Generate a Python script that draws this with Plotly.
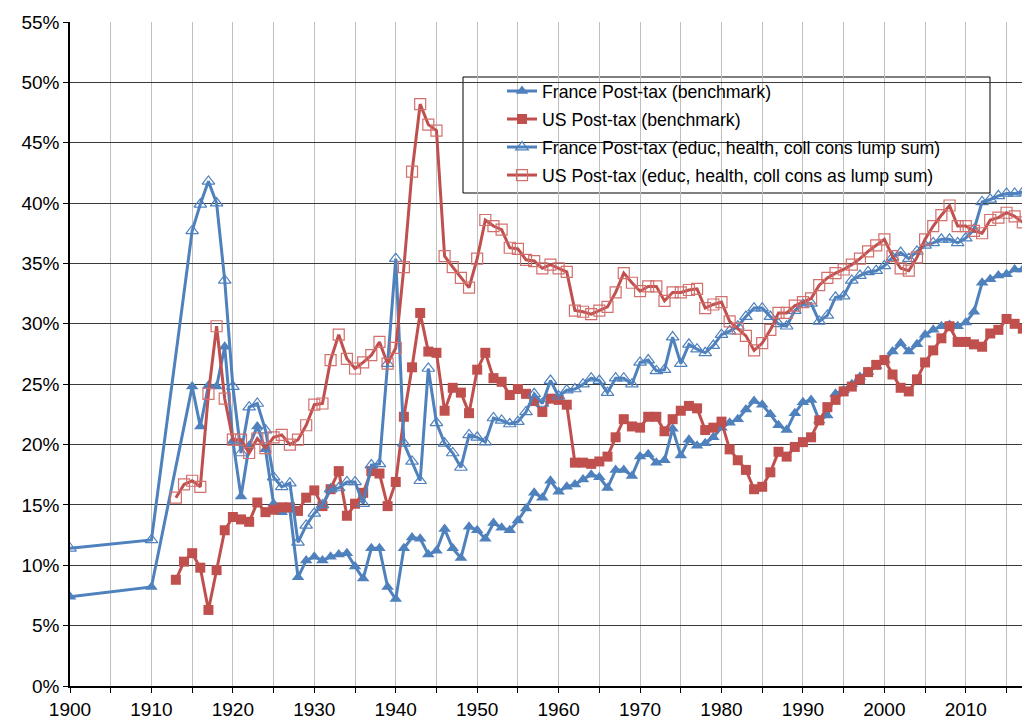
import plotly.graph_objects as go

fr_years = [1900, 1910] + list(range(1915, 2018))
us_years = list(range(1913, 2018))

fr_bench = [7.4, 8.2,
    24.8, 21.5, 24.9, 24.8, 28.1, 20.3, 15.7, 19.9, 21.5, 19.6,
    15.1, 14.4, 14.6, 9.0, 10.4, 10.7, 10.4, 10.7, 10.9, 11.0,
    9.9, 8.9, 11.4, 11.4, 8.2, 7.2, 11.4, 12.3, 12.2, 10.9,
    11.2, 13.0, 11.4, 10.6, 13.2, 12.9, 12.2, 13.5, 13.1, 12.9,
    13.7, 14.7, 16.0, 15.6, 17.0, 16.1, 16.5, 16.7, 17.1, 17.5,
    17.3, 16.4, 17.9, 17.9, 17.4, 19.0, 19.2, 18.5, 18.7, 21.3,
    19.1, 20.4, 19.9, 20.1, 20.6, 21.4, 21.8, 22.1, 22.9, 23.6,
    23.3, 22.5, 21.6, 21.2, 22.6, 23.5, 23.7, 22.0, 22.4, 24.2,
    24.5, 25.0, 25.6, 26.0, 26.5, 27.0, 27.7, 28.4, 27.7, 28.3,
    29.1, 29.5, 29.8, 29.9, 29.8, 30.1, 31.0, 33.4, 33.7, 34.0,
    34.1, 34.5, 34.5]

fr_lump = [11.4, 12.1,
    37.7, 39.9, 41.8, 40.0, 33.6, 24.8, 19.3, 23.1, 23.4, 21.2,
    17.3, 16.5, 16.8, 11.9, 13.3, 14.3, 15.0, 16.3, 16.4, 16.9,
    16.9, 15.1, 18.3, 18.4, 26.7, 35.4, 20.1, 18.6, 17.0, 26.3,
    21.8, 20.1, 19.3, 18.1, 20.8, 20.6, 20.2, 22.2, 22.0, 21.7,
    21.9, 22.7, 24.2, 23.4, 25.3, 24.0, 24.5, 24.6, 25.0, 25.5,
    25.3, 24.3, 25.5, 25.5, 25.0, 26.8, 27.0, 26.1, 26.2, 28.9,
    26.7, 28.3, 27.9, 27.6, 28.2, 29.1, 29.4, 29.8, 30.6, 31.3,
    31.3, 30.6, 30.0, 29.8, 31.1, 31.6, 31.7, 30.2, 30.7, 32.2,
    32.3, 33.6, 34.0, 34.3, 34.4, 34.8, 35.5, 35.9, 35.4, 36.0,
    36.5, 36.7, 37.0, 37.0, 36.7, 37.1, 37.8, 40.1, 40.3, 40.6,
    40.8, 40.8, 40.9]

us_bench = [8.8, 10.3,
    11.0, 9.8, 6.3, 9.6, 12.9, 14.0, 13.8, 13.6, 15.2, 14.4,
    14.6, 14.8, 14.8, 14.5, 15.6, 16.2, 14.9, 16.3, 17.8, 14.1,
    15.1, 16.0, 17.8, 17.6, 14.9, 16.9, 22.3, 26.4, 30.9, 27.7,
    27.6, 22.8, 24.7, 24.3, 22.6, 26.2, 27.6, 25.5, 25.2, 24.1,
    24.6, 24.2, 23.6, 22.7, 23.8, 23.7, 23.3, 18.5, 18.5, 18.4,
    18.6, 19.0, 20.6, 22.1, 21.5, 21.4, 22.3, 22.3, 21.1, 22.1,
    22.8, 23.2, 23.0, 21.2, 21.4, 21.9, 19.6, 18.7, 17.9, 16.3,
    16.5, 17.7, 19.4, 19.0, 19.8, 20.2, 20.6, 22.0, 23.1, 23.7,
    24.4, 24.8, 25.4, 26.0, 26.6, 27.0, 25.8, 24.7, 24.4, 25.4,
    26.8, 27.8, 28.8, 29.8, 28.5, 28.5, 28.3, 28.1, 29.2, 29.5,
    30.4, 30.0, 29.6]

us_lump = [15.6, 16.7,
    17.0, 16.5, 24.2, 29.8, 23.8, 20.4, 20.4, 19.3, 20.5, 19.7,
    20.6, 20.8, 20.0, 20.4, 21.6, 23.3, 23.4, 27.0, 29.1, 27.1,
    26.3, 26.8, 27.4, 28.5, 26.7, 28.0, 34.7, 42.6, 48.2, 46.5,
    46.0, 35.6, 34.7, 33.8, 33.0, 35.4, 38.6, 38.1, 37.8, 36.3,
    36.2, 35.3, 35.2, 34.6, 34.9, 34.6, 34.3, 31.1, 31.0, 30.8,
    31.1, 31.4, 32.6, 34.2, 33.4, 32.7, 33.1, 33.1, 31.9, 32.6,
    32.6, 32.8, 32.9, 31.3, 31.6, 31.8, 30.2, 29.6, 29.0, 27.8,
    28.4, 29.5, 30.9, 30.9, 31.5, 31.8, 32.1, 33.2, 33.8, 34.2,
    34.5, 34.9, 35.4, 36.0, 36.5, 37.0, 35.6, 34.6, 34.4, 35.5,
    37.0, 38.1, 39.0, 39.8, 38.1, 38.1, 37.7, 37.5, 38.6, 38.8,
    39.2, 38.9, 38.4]

x_tick_vals = list(range(1900, 2011, 10))
x_tick_text = [str(v) for v in x_tick_vals]
y_tick_vals = list(range(0, 56, 5))
y_tick_text = [f"{v}%" for v in y_tick_vals]

names = [
    "France Post-tax (benchmark)",
    "US Post-tax (benchmark)",
    "France Post-tax (educ, health, coll cons lump sum)",
    "US Post-tax (educ, health, coll cons as lump sum)",
]

BLUE = "#4F81BD"
RED = "#C0504D"
FONT = "Liberation Sans, Arial, sans-serif"

fig = go.Figure()
fig.add_trace(go.Scatter(x=fr_years, y=fr_bench, name=names[0], mode="lines+markers",
                         line=dict(color=BLUE, width=3),
                         marker=dict(symbol="triangle-up", size=11, color=BLUE),
                         legendgroup="a"))
fig.add_trace(go.Scatter(x=us_years, y=us_bench, name=names[1], mode="lines+markers",
                         line=dict(color=RED, width=3),
                         marker=dict(symbol="square", size=10, color=RED),
                         legendgroup="b"))
fig.add_trace(go.Scatter(x=fr_years, y=fr_lump, name=names[2], mode="lines+markers",
                         line=dict(color=BLUE, width=3),
                         marker=dict(symbol="triangle-up-open", size=11, color=BLUE,
                                     line=dict(width=1.2, color=BLUE)),
                         legendgroup="c"))
fig.add_trace(go.Scatter(x=us_years, y=us_lump, name=names[3], mode="lines+markers",
                         line=dict(color=RED, width=3),
                         marker=dict(symbol="square-open", size=11, color="#D2706D",
                                     line=dict(width=1.2, color="#D2706D")),
                         legendgroup="d"))

# plot area in px: x 70..1022, y 22..686
L, R, T, B = 70, 1022, 22, 686
def px(xp):
    return (xp - L) / (R - L)
def py(yp):
    return (B - yp) / (B - T)

fig.add_shape(type="rect", xref="paper", yref="paper",
              x0=px(463), x1=px(990), y0=py(193), y1=py(77),
              line=dict(color="black", width=1), fillcolor="white", layer="between")

fig.update_layout(
    width=1022, height=722,
    margin=dict(l=L, r=1022 - R, t=T, b=722 - B, autoexpand=False),
    paper_bgcolor="white", plot_bgcolor="white",
    font=dict(family=FONT, color="black", size=19),
    showlegend=True,
    legend=dict(x=px(502), y=py(73), xanchor="left", yanchor="top",
                bgcolor="rgba(0,0,0,0)", borderwidth=0,
                font=dict(family=FONT, size=17.7, color="black"),
                traceorder="grouped", tracegroupgap=2),
)

fig.update_xaxes(range=[1900, 2016.9], tickmode="array", tickvals=x_tick_vals,
                 ticktext=x_tick_text, ticks="outside", ticklen=5, tickcolor="black",
                 showline=True, linecolor="black", linewidth=1.5,
                 showgrid=True, gridcolor="#BFBFBF", gridwidth=1,
                 minor=dict(tick0=1900, dtick=5, ticks="outside", ticklen=5,
                            tickcolor="black", showgrid=True, gridcolor="#BFBFBF",
                            gridwidth=1),
                 zeroline=False, automargin=False,
                 tickfont=dict(family=FONT, size=19))
fig.update_yaxes(range=[0, 55], tickmode="array", tickvals=y_tick_vals,
                 ticktext=y_tick_text, ticks="outside", ticklen=5, tickcolor="black",
                 showline=True, linecolor="black", linewidth=1.5,
                 showgrid=True, gridcolor="#3A3A3A", gridwidth=1,
                 zeroline=False, automargin=False,
                 tickfont=dict(family=FONT, size=19))

fig.write_html("out.html", config={"displayModeBar": False},
               post_script="document.body.style.margin='0';")
